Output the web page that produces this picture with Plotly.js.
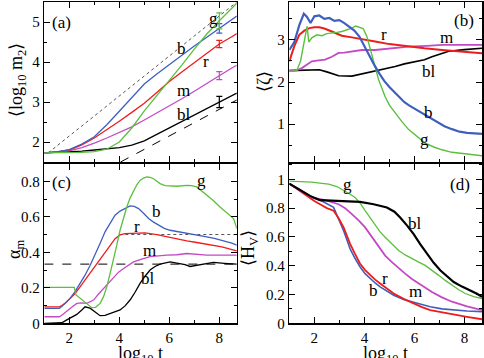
<!DOCTYPE html>
<html><head><meta charset="utf-8">
<script src="https://cdn.plot.ly/plotly-3.0.1.min.js"></script>
<style>html,body{margin:0;padding:0;background:#fff}#chart{width:484px;height:358px}</style>
</head><body><div id="chart"></div>
<script>
// ---------- Panel (a): <log10 m2> ----------
const tA = [1, 1.5, 2, 2.5, 3, 3.5, 4, 4.5, 5, 5.5, 6, 6.5, 7, 7.5, 8, 8.5, 8.7];
const aBl = [1.73, 1.74, 1.75, 1.77, 1.80, 1.83, 1.86, 1.92, 2.03, 2.19, 2.35, 2.52, 2.68, 2.84, 3.0, 3.15, 3.22];
const aM  = [1.73, 1.75, 1.78, 1.86, 1.97, 2.1, 2.23, 2.38, 2.55, 2.72, 2.89, 3.08, 3.27, 3.47, 3.66, 3.85, 3.92];
const aR  = [1.73, 1.75, 1.8, 1.93, 2.1, 2.3, 2.52, 2.74, 2.97, 3.24, 3.51, 3.75, 3.98, 4.22, 4.45, 4.63, 4.71];
const aB  = [1.73, 1.75, 1.81, 1.95, 2.13, 2.43, 2.77, 3.12, 3.45, 3.7, 3.94, 4.17, 4.4, 4.62, 4.84, 5.06, 5.15];
const aG  = [1.73, 1.73, 1.73, 1.74, 1.76, 1.82, 2.0, 2.35, 2.78, 3.16, 3.53, 3.92, 4.32, 4.7, 5.03, 5.34, 5.47];
const errX = [8];
const errCenters = {bl: 3.0, m: 3.66, r: 4.45, b: 4.84, g: 5.03};
const errSizes   = {bl: 0.14, m: 0.1, r: 0.09, b: 0.12, g: 0.2};
const dotLineX = [1.16, 8.7], dotLineY = [1.73, 5.5];
const dashLineX = [4.05, 8.7], dashLineY = [1.5, 3.05];

// ---------- Panel (b): <zeta> ----------
const bBx = [1.0, 1.2, 1.4, 1.58, 1.7, 1.85, 2.0, 2.2, 2.4, 2.6, 2.8, 3.0, 3.2, 3.4, 3.6, 3.8, 4.0, 4.2, 4.4, 4.6, 4.8, 5.0, 5.2, 5.4, 5.6, 5.8, 6.0, 6.3, 6.6, 6.9, 7.2, 7.5, 7.8, 8.1, 8.4, 8.7];
const bB  = [2.76, 2.95, 3.35, 3.62, 3.55, 3.4, 3.56, 3.58, 3.5, 3.52, 3.45, 3.47, 3.4, 3.32, 3.22, 3.08, 2.85, 2.62, 2.4, 2.2, 2.02, 1.88, 1.76, 1.63, 1.52, 1.44, 1.37, 1.26, 1.16, 1.05, 0.95, 0.88, 0.82, 0.79, 0.78, 0.77];
const bGx = [1.0, 1.3, 1.45, 1.6, 1.71, 1.78, 1.9, 2.1, 2.3, 2.5, 2.7, 2.9, 3.1, 3.3, 3.5, 3.65, 3.8, 3.95, 4.1, 4.2, 4.3, 4.45, 4.57, 4.7, 4.83, 5.0, 5.23, 5.5, 5.77, 6.1, 6.43, 6.8, 7.1, 7.5, 7.77, 8.2, 8.7];
const bG  = [2.25, 2.27, 2.5, 3.0, 3.32, 2.95, 3.05, 3.12, 3.1, 3.15, 3.16, 3.18, 3.2, 3.24, 3.28, 3.33, 3.3, 3.27, 3.08, 2.85, 2.6, 2.3, 2.05, 1.85, 1.65, 1.45, 1.26, 1.06, 0.87, 0.7, 0.55, 0.45, 0.39, 0.33, 0.31, 0.28, 0.25];
const bRx = [1.0, 1.2, 1.4, 1.6, 1.8, 2.0, 2.2, 2.4, 2.7, 3.1, 3.5, 4.0, 4.43, 5.0, 5.77, 6.4, 7.1, 7.8, 8.7];
const bR  = [2.49, 2.85, 3.12, 3.22, 3.28, 3.3, 3.3, 3.27, 3.2, 3.1, 3.06, 3.0, 2.96, 2.9, 2.84, 2.8, 2.76, 2.72, 2.68];
const bMx = [1.0, 1.3, 1.5, 1.7, 1.9, 2.1, 2.43, 2.7, 2.97, 3.2, 3.5, 3.9, 4.43, 5.0, 5.77, 6.5, 7.1, 7.8, 8.7];
const bM  = [2.27, 2.28, 2.33, 2.42, 2.49, 2.51, 2.53, 2.6, 2.69, 2.7, 2.73, 2.76, 2.76, 2.8, 2.84, 2.86, 2.88, 2.88, 2.88];
const bBlx = [1.0, 1.5, 2.0, 2.2, 2.5, 2.97, 3.5, 3.8, 4.17, 4.7, 5.23, 5.6, 6.03, 6.4, 6.7, 7.0, 7.37, 8.0, 8.7];
const bBl  = [2.27, 2.28, 2.29, 2.29, 2.24, 2.15, 2.14, 2.18, 2.23, 2.29, 2.37, 2.43, 2.49, 2.53, 2.6, 2.65, 2.73, 2.77, 2.8];

// ---------- Panel (c): alpha_m ----------
const cBlx = [1, 1.5, 1.7, 1.9, 2.1, 2.3, 2.5, 2.63, 2.83, 3.0, 3.23, 3.43, 3.63, 3.83, 4.03, 4.23, 4.43, 4.63, 4.83, 5.03, 5.23, 5.43, 5.63, 6.03, 6.43, 6.63, 6.83, 7.03, 7.23, 7.5, 7.77, 8.2, 8.7];
const cBl  = [0, 0, 0.003, 0.019, 0.035, 0.05, 0.075, 0.093, 0.085, 0.065, 0.043, 0.045, 0.055, 0.063, 0.075, 0.098, 0.131, 0.175, 0.225, 0.265, 0.3, 0.32, 0.333, 0.346, 0.337, 0.33, 0.32, 0.325, 0.333, 0.34, 0.343, 0.338, 0.333];
const cMx = [1, 1.6, 1.7, 1.85, 2.03, 2.3, 2.5, 2.7, 2.97, 3.17, 3.37, 3.57, 3.77, 3.97, 4.17, 4.37, 4.57, 4.9, 5.23, 5.9, 6.3, 6.7, 7.1, 7.5, 8.1, 8.7];
const cM  = [0.037, 0.037, 0.045, 0.065, 0.084, 0.112, 0.115, 0.112, 0.131, 0.165, 0.197, 0.23, 0.262, 0.288, 0.309, 0.33, 0.346, 0.362, 0.375, 0.384, 0.386, 0.393, 0.39, 0.384, 0.384, 0.384];
const cRx = [1, 1.6, 1.7, 1.83, 2.03, 2.23, 2.43, 2.63, 2.83, 3.03, 3.23, 3.43, 3.63, 3.83, 4.03, 4.23, 4.6, 5.03, 5.5, 5.9, 6.3, 6.7, 7.1, 7.5, 8.1, 8.7];
const cR  = [0.093, 0.093, 0.1, 0.112, 0.14, 0.168, 0.205, 0.243, 0.28, 0.318, 0.355, 0.393, 0.437, 0.477, 0.498, 0.505, 0.508, 0.509, 0.5, 0.487, 0.475, 0.464, 0.455, 0.446, 0.43, 0.408];
const cBx = [1, 1.6, 1.7, 1.83, 2.03, 2.23, 2.43, 2.63, 2.83, 3.03, 3.23, 3.43, 3.63, 3.83, 4.03, 4.23, 4.43, 4.6, 4.77, 4.97, 5.17, 5.37, 5.57, 5.8, 6.03, 6.4, 6.7, 7.1, 7.5, 7.8, 8.17, 8.5, 8.7];
const cB  = [0.084, 0.084, 0.095, 0.112, 0.14, 0.178, 0.222, 0.271, 0.325, 0.384, 0.45, 0.515, 0.565, 0.609, 0.632, 0.646, 0.661, 0.658, 0.646, 0.62, 0.59, 0.57, 0.553, 0.535, 0.524, 0.515, 0.509, 0.5, 0.487, 0.478, 0.464, 0.452, 0.44];
const cGx = [1, 1.5, 2.0, 2.2, 2.27, 2.45, 2.63, 2.78, 2.9, 3.05, 3.23, 3.37, 3.5, 3.63, 3.77, 3.9, 4.03, 4.17, 4.3, 4.43, 4.57, 4.7, 4.83, 4.97, 5.1, 5.23, 5.37, 5.5, 5.63, 5.83, 6.03, 6.3, 6.7, 6.9, 7.1, 7.3, 7.5, 7.77, 8.03, 8.3, 8.57, 8.7];
const cG  = [0.202, 0.202, 0.202, 0.202, 0.16, 0.14, 0.122, 0.1, 0.088, 0.09, 0.112, 0.15, 0.206, 0.28, 0.356, 0.44, 0.524, 0.595, 0.655, 0.705, 0.749, 0.78, 0.805, 0.818, 0.824, 0.822, 0.814, 0.8, 0.787, 0.775, 0.772, 0.772, 0.777, 0.775, 0.768, 0.745, 0.721, 0.69, 0.655, 0.625, 0.59, 0.534];
const halfLineX = [4.0, 8.7], halfLineY = [0.5, 0.5];
const thirdLineX = [1, 8.7], thirdLineY = [0.3333, 0.3333];

// ---------- Panel (d): <H_V> ----------
const dGx = [1, 1.5, 1.9, 2.3, 2.57, 2.9, 3.1, 3.4, 3.63, 3.85, 4.03, 4.23, 4.43, 4.63, 4.83, 5.1, 5.37, 5.63, 5.9, 6.17, 6.43, 6.7, 6.97, 7.23, 7.5, 7.77, 8.03, 8.37, 8.7];
const dG  = [0.988, 0.984, 0.98, 0.972, 0.966, 0.95, 0.931, 0.9, 0.874, 0.83, 0.782, 0.73, 0.678, 0.635, 0.598, 0.55, 0.506, 0.475, 0.448, 0.425, 0.402, 0.37, 0.333, 0.298, 0.264, 0.233, 0.207, 0.186, 0.172];
const dBlx = [1, 1.4, 1.83, 2.23, 2.77, 3.3, 3.83, 4.37, 4.9, 5.2, 5.43, 5.7, 5.97, 6.23, 6.5, 6.77, 7.03, 7.3, 7.57, 7.9, 8.23, 8.5, 8.7];
const dBl  = [0.97, 0.93, 0.885, 0.855, 0.85, 0.846, 0.843, 0.827, 0.804, 0.775, 0.735, 0.68, 0.62, 0.55, 0.483, 0.42, 0.368, 0.325, 0.287, 0.255, 0.23, 0.205, 0.184];
const dMx = [1, 1.4, 1.9, 2.43, 2.97, 3.23, 3.5, 3.77, 4.03, 4.3, 4.57, 4.83, 5.1, 5.37, 5.63, 5.9, 6.17, 6.43, 6.7, 7.1, 7.5, 8.1, 8.7];
const dM  = [0.97, 0.93, 0.874, 0.855, 0.827, 0.8, 0.758, 0.715, 0.666, 0.6, 0.529, 0.47, 0.425, 0.382, 0.345, 0.308, 0.276, 0.245, 0.218, 0.18, 0.15, 0.118, 0.092];
const dRx = [1, 1.4, 1.7, 2.0, 2.23, 2.5, 2.77, 2.97, 3.17, 3.3, 3.43, 3.63, 3.83, 4.03, 4.23, 4.43, 4.63, 4.9, 5.17, 5.57, 5.97, 6.3, 6.63, 7.1, 7.5, 8.1, 8.7];
const dR  = [0.97, 0.92, 0.885, 0.85, 0.827, 0.8, 0.782, 0.73, 0.666, 0.61, 0.552, 0.48, 0.414, 0.37, 0.334, 0.303, 0.276, 0.24, 0.207, 0.17, 0.138, 0.112, 0.092, 0.075, 0.064, 0.045, 0.028];
const dBx = [1, 1.4, 1.9, 2.3, 2.77, 2.97, 3.17, 3.3, 3.43, 3.63, 3.83, 4.03, 4.23, 4.43, 4.63, 4.9, 5.17, 5.57, 5.97, 6.3, 6.63, 7.1, 7.5, 8.1, 8.7];
const dB  = [0.97, 0.93, 0.874, 0.85, 0.805, 0.73, 0.643, 0.58, 0.517, 0.45, 0.391, 0.345, 0.311, 0.28, 0.253, 0.222, 0.195, 0.166, 0.145, 0.13, 0.115, 0.1, 0.092, 0.085, 0.081];

// ---------- Labels ----------
const seriesNames = ['bl', 'm', 'r', 'b', 'g'];
const panelLabels = ['(a)', '(b)', '(c)', '(d)'];

const COL = {bl: '#000000', m: '#c44ac4', r: '#ee1c1c', b: '#3f5fbf', g: '#5cbf3c'};
const FONT = "'Liberation Serif', 'Times New Roman', Times, serif";

function line(x, y, key, ax, w) {
  return {x: x, y: y, xaxis: 'x' + ax, yaxis: 'y' + ax, type: 'scatter', mode: 'lines',
          line: {color: COL[key], width: w}, hoverinfo: 'skip', name: key};
}
function ref(x, y, ax, dash) {
  return {x: x, y: y, xaxis: 'x' + ax, yaxis: 'y' + ax, type: 'scatter', mode: 'lines',
          line: {color: dash === 'dot' ? '#555' : '#000', width: 1, dash: dash}, hoverinfo: 'skip'};
}
function ebar(key) {
  return {x: errX, y: [errCenters[key]], xaxis: 'x', yaxis: 'y', type: 'scatter', mode: 'markers',
          marker: {size: 1, color: COL[key]},
          error_y: {type: 'data', array: [errSizes[key]], color: COL[key], thickness: 1.2, width: 3},
          hoverinfo: 'skip'};
}

const traces = [
  ref(dotLineX, dotLineY, '', 'dot'), ref(dashLineX, dashLineY, '', 'dash'),
  line(tA, aBl, 'bl', '', 1.3), line(tA, aM, 'm', '', 1.3), line(tA, aR, 'r', '', 1.3),
  line(tA, aB, 'b', '', 1.3), line(tA, aG, 'g', '', 1.3),
  ebar('bl'), ebar('m'), ebar('r'), ebar('b'), ebar('g'),
  line(bBlx, bBl, 'bl', '2', 1.6), line(bMx, bM, 'm', '2', 1.8), line(bRx, bR, 'r', '2', 2),
  line(bGx, bG, 'g', '2', 1.4), line(bBx, bB, 'b', '2', 2.2),
  ref(halfLineX, halfLineY, '3', 'dot'), ref(thirdLineX, thirdLineY, '3', 'dash'),
  line(cBlx, cBl, 'bl', '3', 1.3), line(cMx, cM, 'm', '3', 1.3), line(cRx, cR, 'r', '3', 1.3),
  line(cBx, cB, 'b', '3', 1.3), line(cGx, cG, 'g', '3', 1.3),
  line(dGx, dG, 'g', '4', 1.3), line(dBx, dB, 'b', '4', 1.6), line(dRx, dR, 'r', '4', 1.8),
  line(dMx, dM, 'm', '4', 1.8), line(dBlx, dBl, 'bl', '4', 2.2)
];

const xL = [44.3 / 484, 236.8 / 484], xR = [289.3 / 484, 482 / 484];
const yT = [(358 - 162.0) / 358, (358 - 2) / 358], yB = [(358 - 323.3) / 358, (358 - 163.5) / 358];

function xax(dom, anchor, labels) {
  return {domain: dom, anchor: anchor, range: [1, 8.7], tick0: 0, dtick: 2,
          ticks: 'inside', ticklen: 6, tickwidth: 1, tickcolor: '#000',
          showline: true, linecolor: '#000', linewidth: 1.5, mirror: 'ticks',
          showgrid: false, zeroline: false, showticklabels: labels,
          tickfont: {family: FONT, size: 15, color: '#000'},
          minor: {tick0: 0, dtick: 1, ticks: 'inside', ticklen: 3, tickcolor: '#000'}};
}
function yax(dom, anchor, range, dtick, mdtick) {
  return {domain: dom, anchor: anchor, range: range, tick0: 0, dtick: dtick,
          ticks: 'inside', ticklen: 6, tickwidth: 1, tickcolor: '#000',
          showline: true, linecolor: '#000', linewidth: 1.5, mirror: 'ticks',
          showgrid: false, zeroline: false,
          tickfont: {family: FONT, size: 15, color: '#000'},
          minor: {tick0: 0, dtick: mdtick, ticks: 'inside', ticklen: 3, tickcolor: '#000'}};
}

function lab(text, x, y, ax, size) {
  return {text: text, x: x, y: y, xref: 'x' + ax, yref: 'y' + ax, showarrow: false,
          font: {family: FONT, size: size || 17, color: '#000'}};
}
function ptitle(text, px, py, rot) {
  return {text: text, x: px / 484, y: (358 - py) / 358, xref: 'paper', yref: 'paper',
          showarrow: false, textangle: rot, xanchor: 'center', yanchor: 'middle',
          font: {family: FONT, size: 18, color: '#000'}};
}

const annotations = [
  lab(panelLabels[0], 1.7, 5.0, ''), lab('g', 7.76, 5.08, ''), lab('b', 6.5, 4.34, ''),
  lab('r', 7.47, 4.02, ''), lab('m', 6.56, 3.3, ''), lab('bl', 6.6, 2.68, ''),
  lab(panelLabels[1], 7.98, 3.47, '2'), lab('r', 4.78, 3.12, '2'), lab('m', 7.27, 3.05, '2'),
  lab('bl', 6.58, 2.25, '2'), lab('b', 6.55, 1.28, '2'), lab('g', 6.39, 0.64, '2'),
  lab(panelLabels[2], 1.7, 0.795, '3'), lab('g', 7.3, 0.805, '3'), lab('b', 5.5, 0.627, '3'),
  lab('r', 4.7, 0.543, '3'), lab('m', 5.2, 0.412, '3'), lab('bl', 5.16, 0.253, '3'),
  lab(panelLabels[3], 7.84, 0.966, '4'), lab('g', 3.31, 0.966, '4'), lab('bl', 6.04, 0.69, '4'),
  lab('r', 4.82, 0.31, '4'), lab('b', 4.38, 0.225, '4'), lab('m', 6.04, 0.218, '4'),
  ptitle('⟨log<sub>10</sub> m<sub>2</sub>⟩', 17, 80, -90),
  ptitle('⟨ζ⟩', 264, 82, -90),
  ptitle('α<sub>m</sub>', 15, 250, -90),
  ptitle('⟨H<sub>V</sub>⟩', 250, 248, -90),
  ptitle('log<sub>10</sub> t', 140.5, 354, 0),
  ptitle('log<sub>10</sub> t', 385.6, 354, 0)
];

const layout = {
  width: 484, height: 358, margin: {l: 0, r: 0, t: 0, b: 0, pad: 0},
  paper_bgcolor: '#fff', plot_bgcolor: '#fff', showlegend: false,
  font: {family: FONT, color: '#000'},
  xaxis: xax(xL, 'y', false), yaxis: yax(yT, 'x', [1.5, 5.5], 1, 0.5),
  xaxis2: xax(xR, 'y2', false), yaxis2: yax(yT, 'x2', [0.1, 3.9], 1, 0.5),
  xaxis3: xax(xL, 'y3', true), yaxis3: yax(yB, 'x3', [0, 0.9], 0.2, 0.1),
  xaxis4: xax(xR, 'y4', true), yaxis4: yax(yB, 'x4', [0, 1.11], 0.2, 0.1),
  annotations: annotations
};

Plotly.newPlot('chart', traces, layout, {staticPlot: true, displayModeBar: false});
</script></body></html>
